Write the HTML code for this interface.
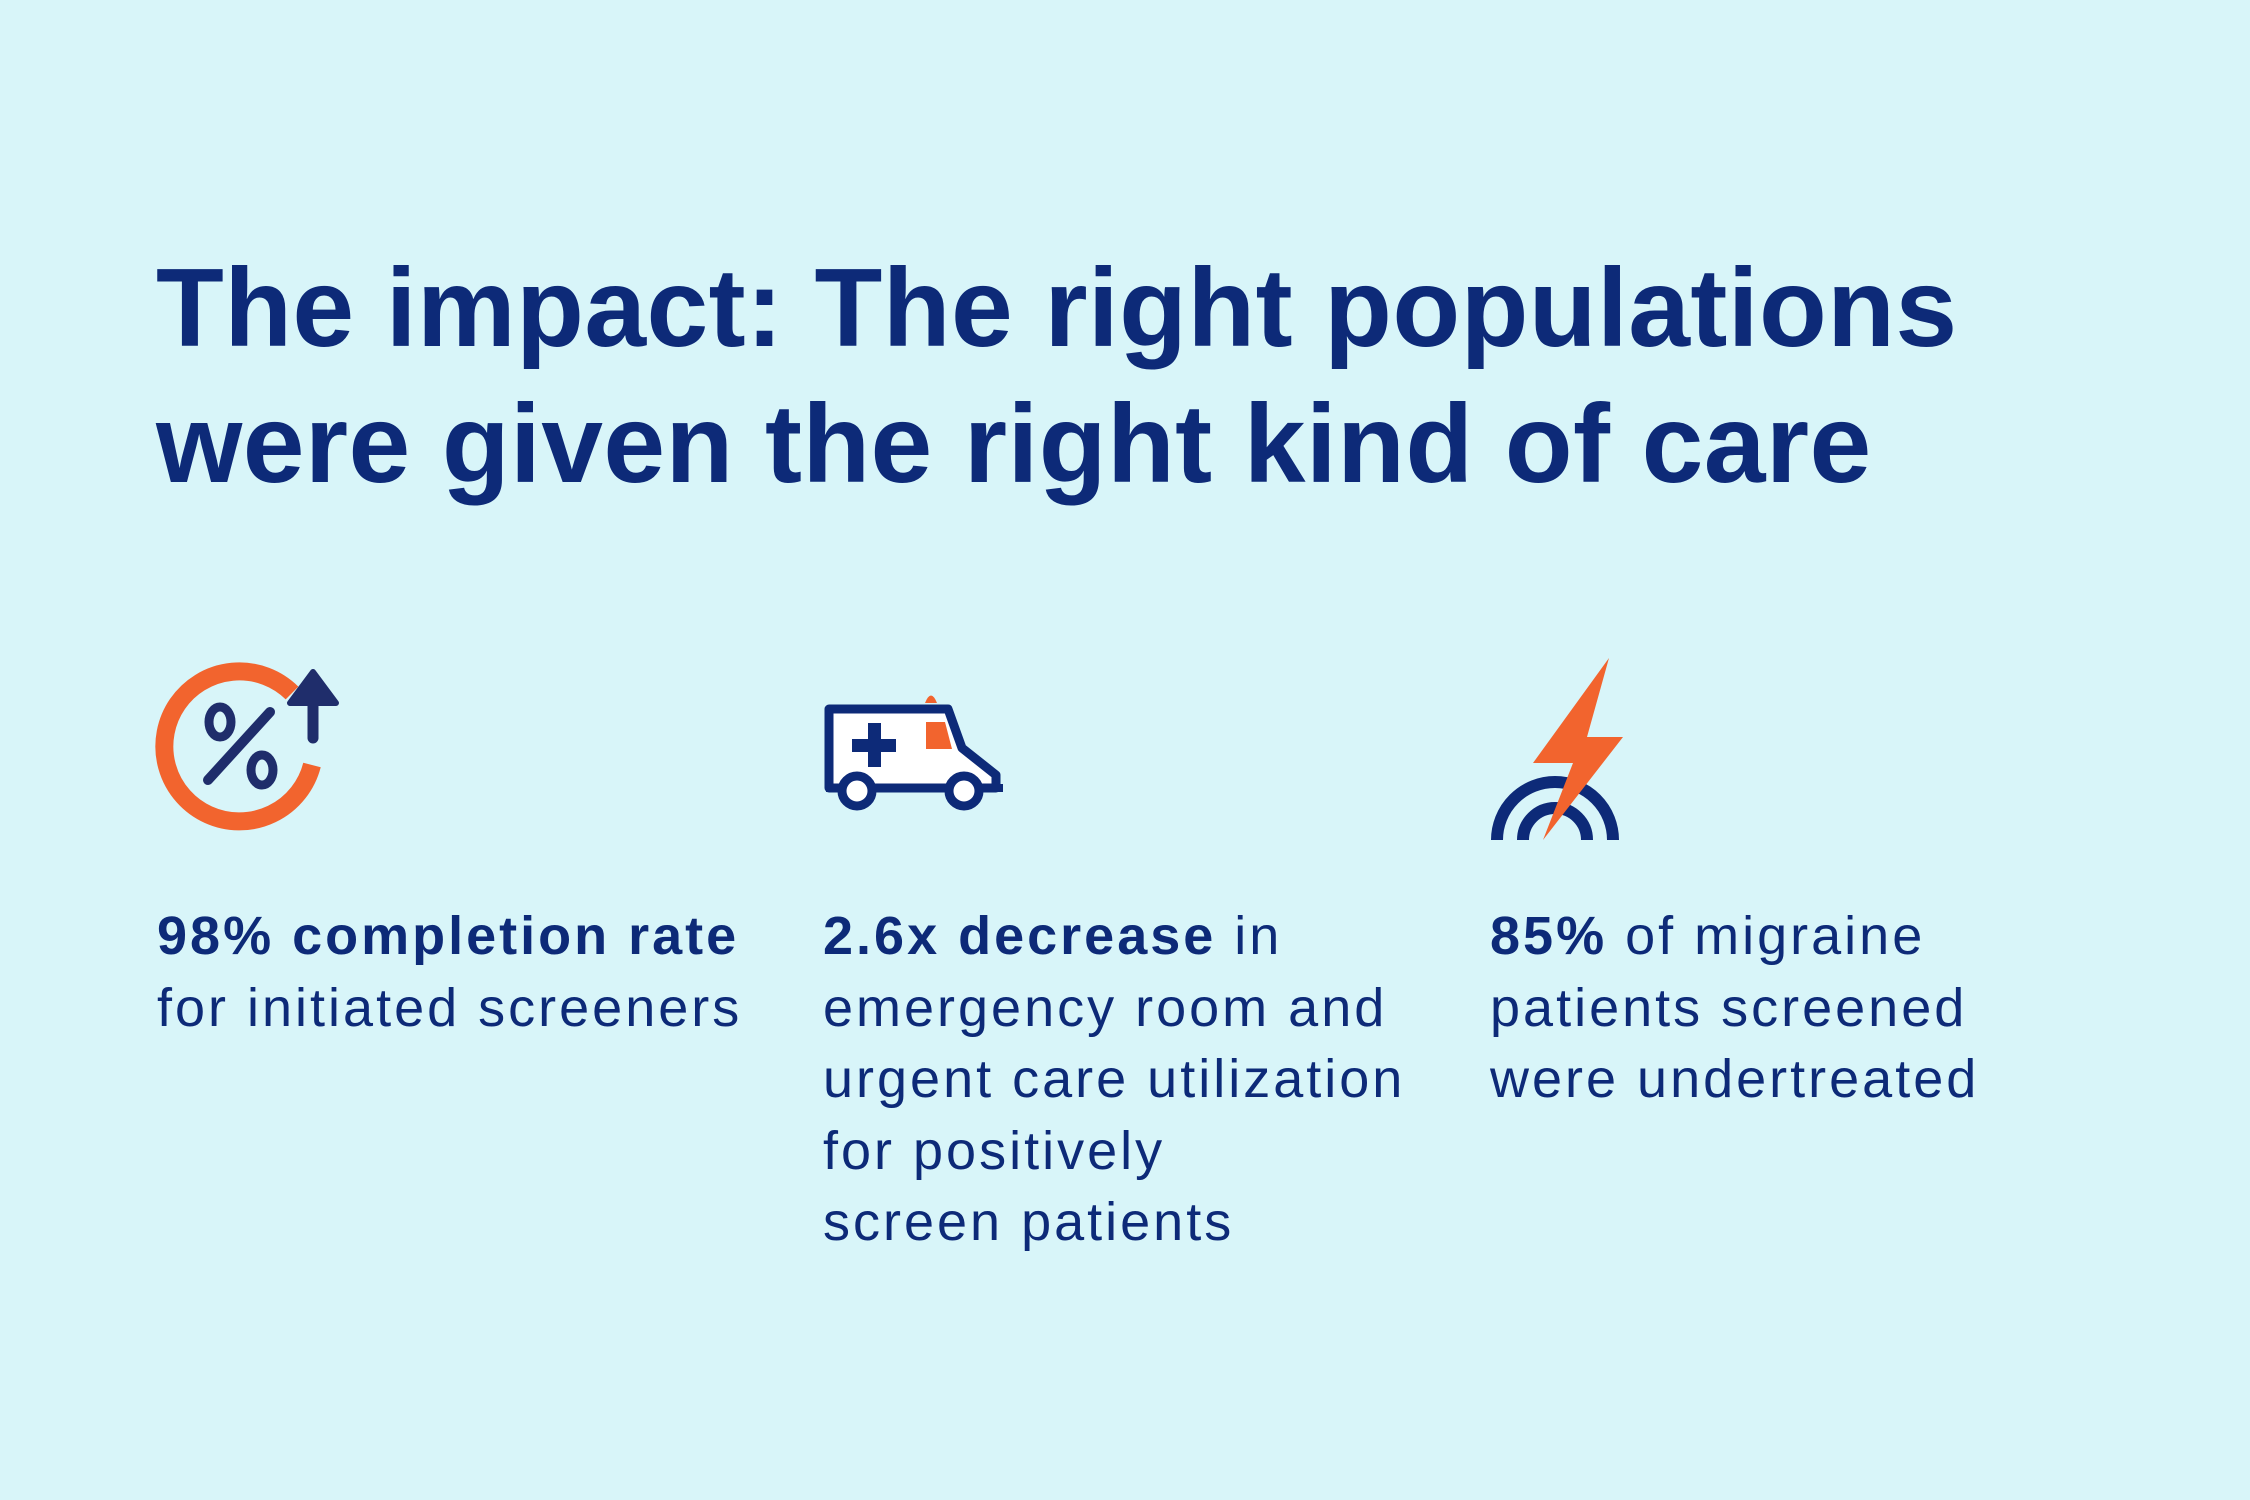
<!DOCTYPE html>
<html><head><style>
html,body{margin:0;padding:0}
body{width:2250px;height:1500px;background:#d8f5f9;position:relative;overflow:hidden;font-family:"Liberation Sans",sans-serif;color:#0d2a78}
h1{position:absolute;left:156px;top:240px;margin:0;font-size:111px;line-height:136px;font-weight:bold;letter-spacing:0.4px;white-space:nowrap}
.c{position:absolute;top:901px;font-size:54px;line-height:71.5px;letter-spacing:3px;white-space:nowrap}
b{font-weight:bold}
svg{position:absolute;left:0;top:0}
</style></head><body>
<h1>The impact: The right populations<br>were given the right kind of care</h1>
<svg width="2250" height="1500">
<path d="M 292 693 A 75 75 0 1 0 312 765" fill="none" stroke="#f2642e" stroke-width="18"/>
<ellipse cx="220" cy="722" rx="11" ry="15" fill="none" stroke="#1f2d6b" stroke-width="9"/>
<ellipse cx="262" cy="770" rx="11" ry="15" fill="none" stroke="#1f2d6b" stroke-width="9"/>
<line x1="208" y1="780" x2="270" y2="712" stroke="#1f2d6b" stroke-width="10" stroke-linecap="round"/>
<line x1="313" y1="690" x2="313" y2="738" stroke="#1f2d6b" stroke-width="11" stroke-linecap="round"/>
<path d="M 313 672 L 290 703 L 336 703 Z" fill="#1f2d6b" stroke="#1f2d6b" stroke-width="6" stroke-linejoin="round"/>
<path d="M 925 703 Q 931 688 937 703 Z" fill="#f2642e"/>
<path d="M 829 709 L 948 709 L 962 748 L 996 775 L 996 788 L 829 788 Z" fill="#fff" stroke="#0d2a78" stroke-width="9" stroke-linejoin="round"/>
<path d="M 826 788 L 1003 788" stroke="#0d2a78" stroke-width="8"/>
<rect x="852" y="739" width="44" height="13" fill="#0d2a78"/>
<rect x="868" y="723" width="13" height="44" fill="#0d2a78"/>
<path d="M 926 722 L 945 722 L 952 749 L 926 749 Z" fill="#f2642e"/>
<circle cx="857" cy="791" r="15" fill="#fff" stroke="#0d2a78" stroke-width="9"/>
<circle cx="964" cy="791" r="15" fill="#fff" stroke="#0d2a78" stroke-width="9"/>
<path d="M 1497 840 A 58 58 0 0 1 1613 840" fill="none" stroke="#0d2a78" stroke-width="12"/>
<path d="M 1523 840 A 32 32 0 0 1 1587 840" fill="none" stroke="#0d2a78" stroke-width="12"/>
<path d="M 1609 658 L 1533 763 L 1573 763 L 1543 840 L 1623 737 L 1587 737 Z" fill="#f2642e"/>
</svg>
<div class="c" style="left:157px"><b>98% completion rate</b><br>for initiated screeners</div>
<div class="c" style="left:823px"><b>2.6x decrease</b> in<br>emergency room and<br>urgent care utilization<br>for positively<br>screen patients</div>
<div class="c" style="left:1490px"><b>85%</b> of migraine<br>patients screened<br>were undertreated</div>
</body></html>
